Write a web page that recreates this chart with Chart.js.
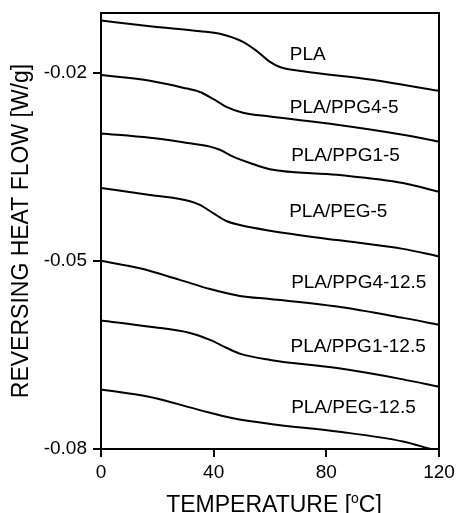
<!DOCTYPE html>
<html>
<head>
<meta charset="utf-8">
<script src="https://cdn.jsdelivr.net/npm/chart.js@4/dist/chart.umd.min.js"></script>
<style>
  html, body { margin: 0; padding: 0; background: #fff; }
  #wrap { width: 457px; height: 513px; }
</style>
</head>
<body>
<div id="wrap"><canvas id="c" width="457" height="513"></canvas></div>
<script>
// 曲线数据：温度 (°C) 与 可逆热流 (W/g)
var plaT = [0, 17.4, 35.1, 42.2, 50.4, 55.4, 60, 63.5, 71.7, 95.5, 120];
var plaV = [-0.0117, -0.0126, -0.0134, -0.0138, -0.0151, -0.0166, -0.0183, -0.0191, -0.0198, -0.0211, -0.0229];

var ppg45T = [0, 17.4, 29.1, 35.1, 39.8, 44.7, 50.4, 60, 83.8, 107.2, 120];
var ppg45V = [-0.0204, -0.0213, -0.0224, -0.0231, -0.0242, -0.0255, -0.0264, -0.0270, -0.0283, -0.0299, -0.0310];

var ppg15T = [0, 17.4, 29.1, 38.7, 42.2, 46.9, 52.9, 60, 83.8, 107.2, 120];
var ppg15V = [-0.0297, -0.0304, -0.0311, -0.0318, -0.0323, -0.0334, -0.0344, -0.0354, -0.0363, -0.0376, -0.0390];

var peg5T = [0, 17.4, 31.6, 35.1, 39.8, 44.7, 49.3, 60, 83.8, 107.2, 120];
var peg5V = [-0.0384, -0.0395, -0.0405, -0.0411, -0.0424, -0.0437, -0.0443, -0.0452, -0.0467, -0.0481, -0.0493];

var ppg4125T = [0, 13.8, 27.7, 38.7, 49.3, 60, 83.8, 107.2, 120];
var ppg4125V = [-0.0500, -0.0512, -0.0530, -0.0545, -0.0556, -0.0561, -0.0573, -0.0591, -0.0602];

var ppg1125T = [0, 17.4, 31.6, 38.7, 44.7, 49.3, 60, 83.8, 107.2, 120];
var ppg1125V = [-0.0595, -0.0605, -0.0615, -0.0626, -0.0639, -0.0648, -0.0658, -0.0671, -0.0689, -0.0701];

var peg125T = [0, 17.4, 35.1, 46.9, 60, 83.8, 107.2, 117];
var peg125V = [-0.0705, -0.0717, -0.0738, -0.0751, -0.0760, -0.0772, -0.0788, -0.0800];

// 曲线标签（数据坐标）
var labelNames = ['PLA', 'PLA/PPG4-5', 'PLA/PPG1-5', 'PLA/PEG-5', 'PLA/PPG4-12.5', 'PLA/PPG1-12.5', 'PLA/PEG-12.5'];
var labelT = [67, 67, 67.5, 66.8, 67.5, 67.3, 67.5];
var labelV = [-0.0172, -0.0256, -0.0332, -0.0422, -0.0535, -0.0637, -0.0735];

// 坐标轴刻度
var xTicks = [0, 40, 80, 120];
var yTicks = [-0.08, -0.05, -0.02];

var FONT = '"Liberation Sans", Arial, sans-serif';

function toPoints(ts, vs) {
    return ts.map(function(t, i) { return { x: t, y: vs[i] }; });
}

function makeSet(name, ts, vs) {
    return {
        label: name,
        data: toPoints(ts, vs),
        borderColor: '#000',
        borderWidth: 2,
        pointRadius: 0,
        fill: false,
        cubicInterpolationMode: 'monotone'
    };
}

// 边框、曲线标签与 x 轴标题
var decorPlugin = {
    id: 'decor',
    afterDraw: function(chart) {
        var ctx = chart.ctx;
        var a = chart.chartArea;
        var xs = chart.scales.x, ys = chart.scales.y;
        ctx.save();
        ctx.strokeStyle = '#000';
        ctx.lineWidth = 2;
        ctx.beginPath();
        ctx.moveTo(a.left, a.top);
        ctx.lineTo(a.right, a.top);
        ctx.lineTo(a.right, a.bottom);
        ctx.stroke();

        ctx.fillStyle = '#000';
        ctx.font = '19px ' + FONT;
        ctx.textAlign = 'left';
        ctx.textBaseline = 'middle';
        labelNames.forEach(function(n, i) {
            ctx.fillText(n, xs.getPixelForValue(labelT[i]), ys.getPixelForValue(labelV[i]));
        });

        // TEMPERATURE [°C]，o 为上标
        var big = '23px ' + FONT, small = '14px ' + FONT;
        var p1 = 'TEMPERATURE [', p2 = 'o', p3 = 'C]';
        ctx.font = big;
        var w1 = ctx.measureText(p1).width, w3 = ctx.measureText(p3).width;
        ctx.font = small;
        var w2 = ctx.measureText(p2).width;
        var total = w1 + w2 + w3;
        var x0 = (a.left + a.right) / 2 - total / 2 + 4;
        var base = 512;
        ctx.textBaseline = 'alphabetic';
        ctx.font = big;
        ctx.fillText(p1, x0, base);
        ctx.font = small;
        ctx.fillText(p2, x0 + w1, base - 9);
        ctx.font = big;
        ctx.fillText(p3, x0 + w1 + w2, base);
        ctx.restore();
    }
};

new Chart(document.getElementById('c').getContext('2d'), {
    type: 'line',
    data: {
        datasets: [
            makeSet('PLA', plaT, plaV),
            makeSet('PLA/PPG4-5', ppg45T, ppg45V),
            makeSet('PLA/PPG1-5', ppg15T, ppg15V),
            makeSet('PLA/PEG-5', peg5T, peg5V),
            makeSet('PLA/PPG4-12.5', ppg4125T, ppg4125V),
            makeSet('PLA/PPG1-12.5', ppg1125T, ppg1125V),
            makeSet('PLA/PEG-12.5', peg125T, peg125V)
        ]
    },
    options: {
        responsive: false,
        animation: false,
        layout: { padding: { top: 13, right: 18, left: 0, bottom: 0 } },
        plugins: {
            legend: { display: false },
            tooltip: { enabled: false }
        },
        scales: {
            x: {
                type: 'linear',
                min: 0,
                max: 120,
                afterBuildTicks: function(s) { s.ticks = xTicks.map(function(v) { return { value: v }; }); },
                afterFit: function(s) {
                    s.height = 64;
                    s.paddingLeft = 0; s.paddingRight = 0;
                },
                ticks: {
                    color: '#000',
                    font: { size: 19, family: FONT },
                    padding: 4,
                    maxRotation: 0,
                    callback: function(v) { return String(v); }
                },
                grid: { drawOnChartArea: false, drawTicks: true, tickLength: 8, color: '#000', lineWidth: 2 },
                border: { display: true, color: '#000', width: 2 }
            },
            y: {
                min: -0.08,
                max: -0.0105,
                afterBuildTicks: function(s) { s.ticks = yTicks.map(function(v) { return { value: v }; }); },
                afterFit: function(s) {
                    s.width = 101;
                    s.paddingTop = 0; s.paddingBottom = 0;
                },
                ticks: {
                    color: '#000',
                    font: { size: 19, family: FONT },
                    padding: 6,
                    callback: function(v) { return v.toFixed(2); }
                },
                grid: { drawOnChartArea: false, drawTicks: true, tickLength: 8, color: '#000', lineWidth: 2 },
                border: { display: true, color: '#000', width: 2 },
                title: {
                    display: true,
                    text: 'REVERSING HEAT FLOW [W/g]',
                    color: '#000',
                    font: { size: 23, family: FONT },
                    padding: { top: 8, bottom: 0 }
                }
            }
        }
    },
    plugins: [decorPlugin]
});
</script>
</body>
</html>
